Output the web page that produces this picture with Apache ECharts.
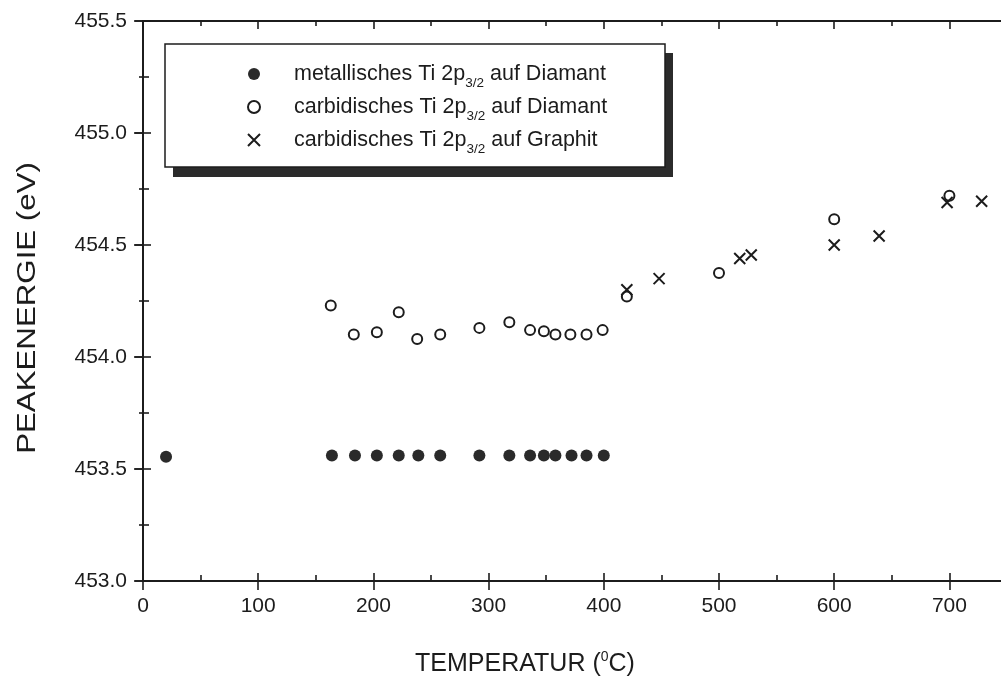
<!DOCTYPE html>
<html>
<head>
<meta charset="utf-8">
<script src="https://cdn.jsdelivr.net/npm/echarts@6/dist/echarts.min.js"></script>
<style>
  html, body { margin: 0; padding: 0; background: #fff; }
  #chart { width: 1001px; height: 682px; }
</style>
</head>
<body>
<div id="chart"></div>
<script>
// Ti 2p3/2 peak energies versus annealing temperature
const tempMetal = [20, 164, 184, 203, 222, 239, 258, 292, 318, 336, 348, 358, 372, 385, 400];
const energyMetal = [453.555, 453.56, 453.56, 453.56, 453.56, 453.56, 453.56, 453.56, 453.56, 453.56, 453.56, 453.56, 453.56, 453.56, 453.56];

const tempCarbDiamond = [163, 183, 203, 222, 238, 258, 292, 318, 336, 348, 358, 371, 385, 399, 420, 500, 600, 700];
const energyCarbDiamond = [454.23, 454.10, 454.11, 454.20, 454.08, 454.10, 454.13, 454.155, 454.12, 454.115, 454.10, 454.10, 454.10, 454.12, 454.27, 454.375, 454.615, 454.72];

const tempCarbGraphite = [420, 448, 518, 528, 600, 639, 698, 728];
const energyCarbGraphite = [454.30, 454.35, 454.44, 454.455, 454.50, 454.54, 454.69, 454.695];

const xTicks = { min: 0, max: 750, step: 100 };
const yTicks = { min: 453.0, max: 455.5, step: 0.5 };

const seriesNames = ['metallisch_Diamant', 'carbidisch_Diamant', 'carbidisch_Graphit'];
const legendLabels = {
  metallisch_Diamant: '{t|metallisches Ti 2p}{s|3/2}{t| auf Diamant}',
  carbidisch_Diamant: '{t|carbidisches Ti 2p}{s|3/2}{t| auf Diamant}',
  carbidisch_Graphit: '{t|carbidisches Ti 2p}{s|3/2}{t| auf Graphit}'
};
const xTitle = ['TEMPERATUR (', '0', 'C)'];
const yTitle = 'PEAKENERGIE (eV)';

const pairs = (xs, ys) => xs.map((x, i) => [x, ys[i]]);

const FONT = '"Liberation Sans", Arial, Helvetica, sans-serif';
const INK = '#1c1c1c';
const crossPath = 'path://M0,0L10,10M10,0L0,10';

const chart = echarts.init(document.getElementById('chart'), null, { renderer: 'canvas' });

const axisLine = { show: true, lineStyle: { color: INK, width: 2 } };
const tickStyle = { color: INK, width: 1.6 };

const xBase = { type: 'value', min: xTicks.min, max: xTicks.max, interval: xTicks.step, splitLine: { show: false } };
const yBase = { type: 'value', min: yTicks.min, max: yTicks.max, interval: yTicks.step, splitLine: { show: false } };

const option = {
  backgroundColor: '#fff',
  animation: false,
  grid: { left: 143, top: 21, width: 864, height: 560, containLabel: false, outerBoundsMode: 'none' },
  graphic: [
    // legend frame with drop shadow
    { type: 'rect', z: 10, shape: { x: 173, y: 53, width: 500, height: 124 }, style: { fill: '#2b2b2b' } },
    { type: 'rect', z: 11, shape: { x: 165, y: 44, width: 500, height: 123 }, style: { fill: '#fff', stroke: INK, lineWidth: 1.5 } },
    // axis titles
    {
      type: 'text', z: 12, x: 525, y: 664,
      style: {
        text: '{t|' + xTitle[0] + '}{p|' + xTitle[1] + '}{t|' + xTitle[2] + '}',
        align: 'center', verticalAlign: 'middle', fill: INK,
        rich: {
          t: { fontSize: 25, fontFamily: FONT, fill: INK },
          p: { fontSize: 14, fontFamily: FONT, fill: INK, padding: [0, 0, 14, 0] }
        }
      }
    },
    {
      type: 'text', z: 12, x: 28, y: 308, rotation: Math.PI / 2, scaleX: 1.25,
      style: { text: yTitle, align: 'center', verticalAlign: 'middle', fontSize: 25, fontFamily: FONT, fill: INK }
    }
  ],
  legend: {
    z: 20,
    orient: 'vertical',
    left: 247,
    top: 63,
    padding: 0,
    itemGap: 6,
    itemWidth: 12,
    itemHeight: 12,
    data: seriesNames,
    formatter: name => legendLabels[name],
    textStyle: {
      padding: [0, 0, 0, 29],
      color: INK,
      fontFamily: FONT,
      rich: {
        t: { fontSize: 21.5, fontFamily: FONT, color: INK, lineHeight: 26 },
        s: { fontSize: 13.5, fontFamily: FONT, color: INK, padding: [18, 0, 0, 0] }
      }
    }
  },
  xAxis: [
    Object.assign({}, xBase, {
      position: 'bottom',
      axisLine,
      axisTick: { show: true, inside: true, length: 8, lineStyle: tickStyle },
      minorTick: { show: true, splitNumber: 2, length: 6, lineStyle: tickStyle },
      axisLabel: { show: true, margin: 15, color: INK, fontSize: 21, fontFamily: FONT,
        showMaxLabel: false, formatter: v => (v % 100 === 0 ? String(Math.round(v)) : '') }
    }),
    Object.assign({}, xBase, {
      position: 'bottom',
      axisLine: { show: false },
      axisTick: { show: true, inside: false, length: 9, lineStyle: tickStyle },
      axisLabel: { show: false }
    }),
    Object.assign({}, xBase, {
      position: 'top',
      axisLine,
      axisTick: { show: true, inside: true, length: 8, lineStyle: tickStyle },
      minorTick: { show: true, splitNumber: 2, length: 5, lineStyle: tickStyle },
      axisLabel: { show: false }
    })
  ],
  yAxis: [
    Object.assign({}, yBase, {
      position: 'left',
      axisLine,
      axisTick: { show: true, inside: true, length: 8, lineStyle: tickStyle },
      minorTick: { show: true, splitNumber: 2, length: 6, lineStyle: tickStyle },
      axisLabel: { show: true, margin: 16, color: INK, fontSize: 21, fontFamily: FONT,
        formatter: v => v.toFixed(1) }
    }),
    Object.assign({}, yBase, {
      position: 'left',
      axisLine: { show: false },
      axisTick: { show: true, inside: false, length: 9, lineStyle: tickStyle },
      axisLabel: { show: false }
    }),
    Object.assign({}, yBase, {
      position: 'right',
      axisLine,
      axisTick: { show: true, inside: true, length: 8, lineStyle: tickStyle },
      minorTick: { show: true, splitNumber: 2, length: 4, lineStyle: tickStyle },
      axisLabel: { show: false }
    })
  ],
  series: [
    {
      name: seriesNames[0],
      type: 'scatter',
      symbol: 'circle',
      symbolSize: 12,
      itemStyle: { color: '#2a2a2a', opacity: 1 },
      data: pairs(tempMetal, energyMetal)
    },
    {
      name: seriesNames[1],
      type: 'scatter',
      symbol: 'circle',
      symbolSize: 10,
      itemStyle: { color: 'rgba(255,255,255,0)', borderColor: INK, borderWidth: 2, opacity: 1 },
      data: pairs(tempCarbDiamond, energyCarbDiamond)
    },
    {
      name: seriesNames[2],
      type: 'scatter',
      symbol: crossPath,
      symbolSize: 11,
      itemStyle: { color: 'rgba(255,255,255,0)', borderColor: INK, borderWidth: 2, opacity: 1 },
      data: pairs(tempCarbGraphite, energyCarbGraphite)
    }
  ]
};

chart.setOption(option);
</script>
</body>
</html>
